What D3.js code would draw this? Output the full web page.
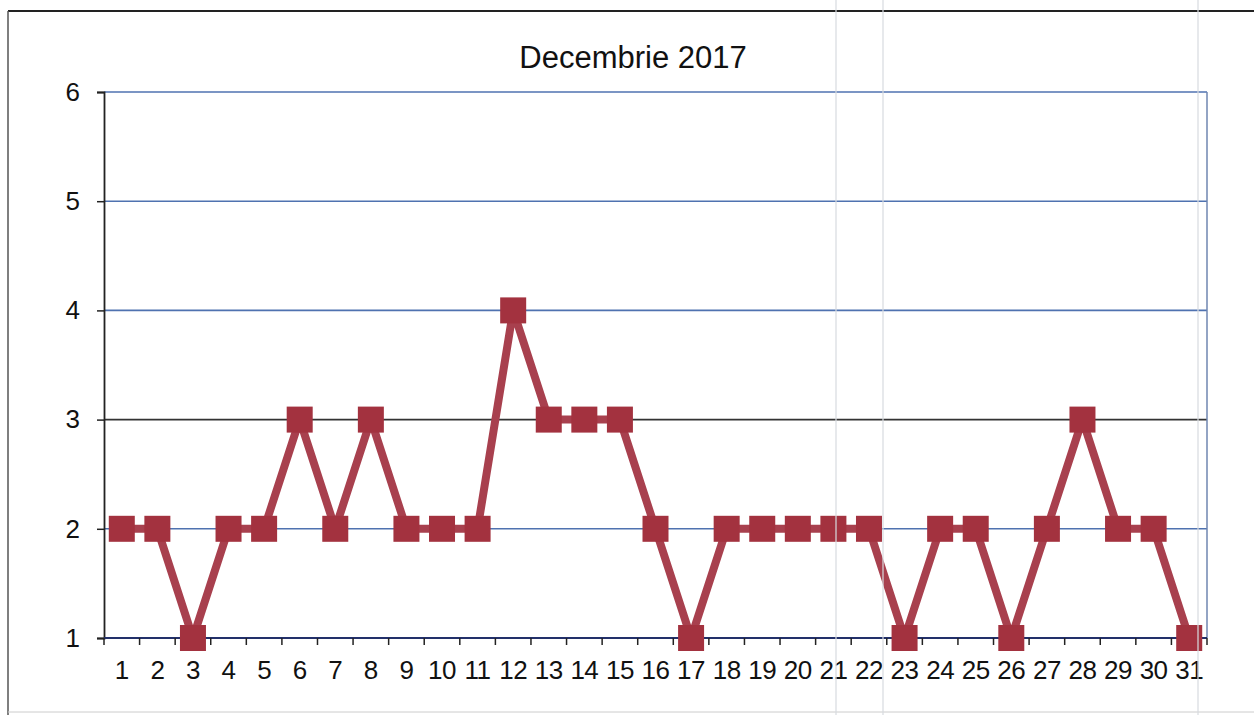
<!DOCTYPE html>
<html>
<head>
<meta charset="utf-8">
<script src="https://cdn.jsdelivr.net/npm/d3@7"></script>
<style>
  body { margin: 0; background: #fff; }
  svg { display: block; font-family: "Liberation Sans", Arial, sans-serif; }
</style>
</head>
<body>
<div id="chart"></div>
<script>
var days = d3.range(1, 32).map(String);
var values = [2, 2, 1, 2, 2, 3, 2, 3, 2, 2, 2, 4, 3, 3, 3, 2, 1, 2, 2, 2, 2, 2, 1, 2, 2, 1, 2, 3, 2, 2, 1];
var yTicks = [1, 2, 3, 4, 5, 6];
var title = "Decembrie 2017";

var width = 1254, height = 715;
var margin = { top: 92, right: 47, bottom: 77, left: 104 };

var svg = d3.select("#chart").append("svg")
  .attr("width", width)
  .attr("height", height);

// outer frame (top + left edges of the scanned box)
svg.append("line").attr("x1", 8).attr("x2", width).attr("y1", 11).attr("y2", 11)
  .attr("stroke", "#222").attr("stroke-width", 2);
svg.append("line").attr("x1", 8).attr("x2", 8).attr("y1", 11).attr("y2", height)
  .attr("stroke", "#555").attr("stroke-width", 1.5);
svg.append("line").attr("x1", 8).attr("x2", width).attr("y1", 712).attr("y2", 712)
  .attr("stroke", "#ccc").attr("stroke-width", 1);

var x = d3.scaleBand()
  .domain(days)
  .range([margin.left, width - margin.right]);

var y = d3.scaleLinear()
  .domain([1, 6])
  .range([height - margin.bottom, margin.top]);

// title
svg.append("text")
  .attr("x", 633)
  .attr("y", 68)
  .attr("text-anchor", "middle")
  .attr("font-size", 31)
  .attr("fill", "#111")
  .text(title);

// gridlines
svg.append("g")
  .selectAll("line")
  .data(yTicks.slice(1))
  .enter()
  .append("line")
  .attr("x1", margin.left)
  .attr("x2", width - margin.right)
  .attr("y1", function (d) { return y(d); })
  .attr("y2", function (d) { return y(d); })
  .attr("stroke", function (d) { return d === 3 ? "#333" : "#4f72b0"; })
  .attr("stroke-width", 1.6);

// right border of plot area
svg.append("line")
  .attr("x1", width - margin.right).attr("x2", width - margin.right)
  .attr("y1", margin.top).attr("y2", height - margin.bottom)
  .attr("stroke", "#6f86b0").attr("stroke-width", 1.5);

// y axis
var yAxis = svg.append("g")
  .attr("transform", "translate(" + margin.left + ",0)")
  .call(d3.axisLeft(y).tickValues(yTicks).tickFormat(d3.format("d")).tickSize(7).tickPadding(17));
yAxis.select(".domain").attr("stroke", "#222").attr("stroke-width", 1.8);
yAxis.selectAll(".tick line").attr("stroke", "#222").attr("stroke-width", 1.5);
yAxis.selectAll("text").attr("font-size", 26).attr("fill", "#111")
  .attr("font-family", "Liberation Sans, Arial, sans-serif");

// x axis with ticks between categories
var xAxis = svg.append("g")
  .attr("transform", "translate(0," + (height - margin.bottom) + ")");
xAxis.append("line")
  .attr("x1", margin.left).attr("x2", width - margin.right)
  .attr("y1", 0).attr("y2", 0)
  .attr("stroke", "#22306a").attr("stroke-width", 2);
xAxis.selectAll(".xt")
  .data(days.concat(["end"]))
  .enter()
  .append("line")
  .attr("class", "xt")
  .attr("x1", function (d, i) { return margin.left + i * x.step(); })
  .attr("x2", function (d, i) { return margin.left + i * x.step(); })
  .attr("y1", 0).attr("y2", 7)
  .attr("stroke", "#222").attr("stroke-width", 1.5);
xAxis.selectAll(".xl")
  .data(days)
  .enter()
  .append("text")
  .attr("class", "xl")
  .attr("x", function (d) { return x(d) + x.bandwidth() / 2; })
  .attr("y", 41)
  .attr("text-anchor", "middle")
  .attr("font-size", 26)
  .attr("letter-spacing", -0.5)
  .attr("fill", "#111")
  .text(function (d) { return d; });

// series line
var line = d3.line()
  .x(function (d, i) { return x(days[i]) + x.bandwidth() / 2; })
  .y(function (d) { return y(d); });

svg.append("path")
  .datum(values)
  .attr("d", line)
  .attr("fill", "none")
  .attr("stroke", "#a8404e")
  .attr("stroke-width", 8)
  .attr("stroke-linejoin", "round");

// square markers
var size = 26;
svg.append("g")
  .selectAll("rect")
  .data(values)
  .enter()
  .append("rect")
  .attr("x", function (d, i) { return x(days[i]) + x.bandwidth() / 2 - size / 2; })
  .attr("y", function (d) { return y(d) - size / 2; })
  .attr("width", size)
  .attr("height", size)
  .attr("fill", "#a3323f");

// faint scan artifacts (vertical light lines)
[836, 883, 1198].forEach(function (px) {
  svg.append("line").attr("x1", px).attr("x2", px).attr("y1", 0).attr("y2", height)
    .attr("stroke", "#d8dce0").attr("stroke-width", 2).attr("opacity", 0.6);
});
</script>
</body>
</html>
